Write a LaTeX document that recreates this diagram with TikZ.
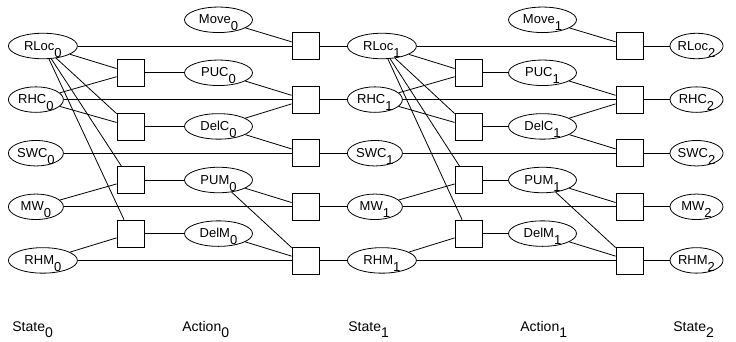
\documentclass[tikz,border=0pt]{standalone}
\usepackage{fontspec}
\setmainfont{Liberation Sans}
\usetikzlibrary{shapes.geometric}
\newcommand\sbs[2][7pt]{\raisebox{-#1}{#2}}
\begin{document}
\begin{tikzpicture}[x=1pt,y=-1pt,
  line width=0.8pt,
  lbl/.style={font=\fontsize{13}{15}\selectfont},
  ell/.style={lbl,ellipse,draw,inner sep=0pt,minimum height=25.5pt,text height=9pt,text depth=1pt},
  stwide/.style={ell,minimum width=69pt,anchor=west},
  stnar/.style={ell,minimum width=55pt,anchor=west},
  stlast/.style={ell,minimum width=53pt},
  act/.style={ell,minimum width=68pt},
  fac/.style={draw,rectangle,inner sep=0pt,minimum size=27pt},
  bottom/.style={font=\fontsize{14}{16}\selectfont,inner sep=0pt,anchor=base west}]
\useasboundingbox (0,0) rectangle (736,341);
% state 0
\node[stwide] (s0-0) at (8,46.0) {RLoc\sbs{0}};
\node[stnar]  (s0-1) at (8,99.6) {RHC\sbs{0}};
\node[stnar]  (s0-2) at (8,153.2) {SWC\sbs{0}};
\node[stnar]  (s0-3) at (8,206.8) {MW\sbs{0}};
\node[stwide] (s0-4) at (8,260.4) {RHM\sbs{0}};
% state 1
\node[stwide] (s1-0) at (347,46.0) {RLoc\sbs{1}};
\node[stnar]  (s1-1) at (347,99.6) {RHC\sbs{1}};
\node[stnar]  (s1-2) at (347,153.2) {SWC\sbs{1}};
\node[stnar]  (s1-3) at (347,206.8) {MW\sbs{1}};
\node[stwide] (s1-4) at (347,260.4) {RHM\sbs{1}};
% state 2
\node[stlast] (s2-0) at (696.5,46.0) {RLoc\sbs{2}};
\node[stlast] (s2-1) at (696.5,99.6) {RHC\sbs{2}};
\node[stlast] (s2-2) at (696.5,153.2) {SWC\sbs{2}};
\node[stlast] (s2-3) at (696.5,206.8) {MW\sbs{2}};
\node[stlast] (s2-4) at (696.5,260.4) {RHM\sbs{2}};
% actions 0
\node[act] (a0-0) at (218.5,19.8) {Move\sbs{0}};
\node[act] (a0-1) at (218.5,72.8) {PUC\sbs{0}};
\node[act] (a0-2) at (218.5,126.4) {DelC\sbs{0}};
\node[act] (a0-3) at (218.5,180.0) {PUM\sbs{0}};
\node[act] (a0-4) at (218.5,233.6) {DelM\sbs{0}};
% actions 1
\node[act] (a1-0) at (542.5,19.8) {Move\sbs{1}};
\node[act] (a1-1) at (542.5,72.8) {PUC\sbs{1}};
\node[act] (a1-2) at (542.5,126.4) {DelC\sbs{1}};
\node[act] (a1-3) at (542.5,180.0) {PUM\sbs{1}};
\node[act] (a1-4) at (542.5,233.6) {DelM\sbs{1}};
% factor boxes
\foreach \t/\fx/\gx in {0/130.5/305.5, 1/468.5/629.5}{
  \node[fac] (f\t-1) at (\fx,72.8) {};
  \node[fac] (f\t-2) at (\fx,126.4) {};
  \node[fac] (f\t-3) at (\fx,180.0) {};
  \node[fac] (f\t-4) at (\fx,233.6) {};
  \node[fac] (g\t-0) at (\gx,46.0) {};
  \node[fac] (g\t-1) at (\gx,99.6) {};
  \node[fac] (g\t-2) at (\gx,153.2) {};
  \node[fac] (g\t-3) at (\gx,206.8) {};
  \node[fac] (g\t-4) at (\gx,260.4) {};
}
% connectors
\foreach \t [evaluate=\t as \n using int(\t+1)] in {0,1}{
  \draw (s\t-0) -- (g\t-0);
  \draw (a\t-0) -- (g\t-0);
  \draw (g\t-0) -- (s\n-0);
  \draw (s\t-0) -- (f\t-1);
  \draw (s\t-1) -- (f\t-1);
  \draw (f\t-1) -- (a\t-1);
  \draw (s\t-0) -- (f\t-2);
  \draw (s\t-1) -- (f\t-2);
  \draw (f\t-2) -- (a\t-2);
  \draw (s\t-0) -- (f\t-3);
  \draw (s\t-3) -- (f\t-3);
  \draw (f\t-3) -- (a\t-3);
  \draw (s\t-0) -- (f\t-4);
  \draw (s\t-4) -- (f\t-4);
  \draw (f\t-4) -- (a\t-4);
  \draw (a\t-1) -- (g\t-1);
  \draw (s\t-1) -- (g\t-1);
  \draw (a\t-2) -- (g\t-1);
  \draw (g\t-1) -- (s\n-1);
  \draw (a\t-2) -- (g\t-2);
  \draw (s\t-2) -- (g\t-2);
  \draw (g\t-2) -- (s\n-2);
  \draw (a\t-3) -- (g\t-3);
  \draw (s\t-3) -- (g\t-3);
  \draw (g\t-3) -- (s\n-3);
  \draw (a\t-3) -- (g\t-4);
  \draw (a\t-4) -- (g\t-4);
  \draw (s\t-4) -- (g\t-4);
  \draw (g\t-4) -- (s\n-4);
}
% bottom labels
\node[bottom] (L0) at (12,331) {State\sbs[6pt]{0}};
\node[bottom] (L1) at (182,331) {Action\sbs[6pt]{0}};
\node[bottom] (L2) at (348,331) {State\sbs[6pt]{1}};
\node[bottom] (L3) at (520,331) {Action\sbs[6pt]{1}};
\node[bottom] (L4) at (673,331) {State\sbs[6pt]{2}};
\end{tikzpicture}
\end{document}
